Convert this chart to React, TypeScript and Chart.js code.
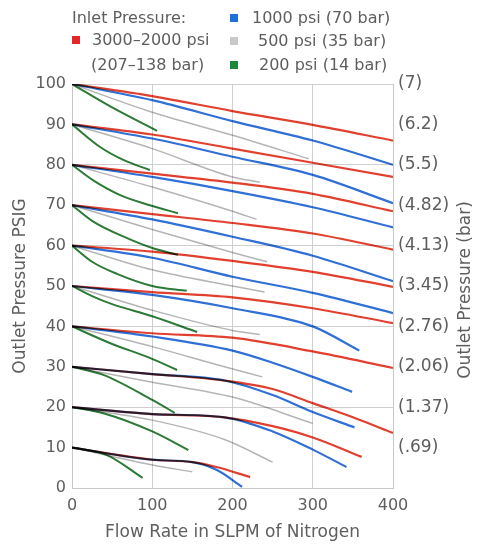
import React, { useEffect, useRef } from "react";
import { Chart, registerables } from "chart.js";

Chart.register(...registerables);

type Pt = [number, number];

// Outlet set-points (psig) for each family of curves
const levels = [100, 90, 80, 70, 60, 50, 40, 30, 20, 10];

// Inlet 3000–2000 psi (red)
const redCurves: Pt[][] = [
  [[0, 100], [100, 97], [200, 93.3], [300, 89.9], [400, 86]],
  [[0, 90], [100, 87.5], [200, 84], [300, 80.5], [400, 77]],
  [[0, 80], [100, 77.8], [200, 75.6], [300, 72.8], [400, 68.5]],
  [[0, 70], [100, 67.8], [200, 65.6], [300, 63], [400, 59]],
  [[0, 60], [100, 58.5], [200, 56.2], [300, 53.5], [400, 49.8]],
  [[0, 50], [100, 48.5], [200, 47.2], [300, 44.5], [400, 40.8]],
  [[0, 40], [100, 38.3], [200, 37.2], [300, 33.8], [400, 29.7]],
  [[0, 30], [100, 28.2], [190, 26.6], [250, 24.5], [300, 21], [350, 17.5], [400, 13.6]],
  [[0, 20], [100, 18.3], [190, 17.5], [250, 15.3], [300, 12.5], [361, 7.7]],
  [[0, 10], [100, 7], [150, 6.4], [180, 5.2], [222, 2.7]],
];

// Inlet 1000 psi (blue)
const blueCurves: Pt[][] = [
  [[0, 100], [100, 96], [200, 90.8], [300, 86], [400, 80]],
  [[0, 90], [100, 86.5], [200, 82], [300, 77.5], [400, 70.5]],
  [[0, 80], [100, 77], [200, 73.5], [300, 69.5], [400, 64.5]],
  [[0, 70], [100, 66.5], [200, 62.2], [300, 57.5], [400, 51.2]],
  [[0, 60], [100, 57], [200, 52.3], [300, 48.3], [400, 43.3]],
  [[0, 50], [100, 47.8], [200, 44.5], [300, 40], [358, 34]],
  [[0, 40], [100, 37.5], [200, 34], [250, 31], [300, 27.5], [349, 23.8]],
  [[0, 30], [100, 28.2], [190, 26.6], [250, 23], [300, 18.8], [352, 15]],
  [[0, 20], [100, 18.3], [190, 17.5], [250, 14], [300, 9.5], [342, 5.2]],
  [[0, 10], [100, 7], [150, 6.4], [180, 4.5], [212, 0.3]],
];

// Inlet 500 psi (gray)
const grayCurves: Pt[][] = [
  [[0, 100], [100, 93], [200, 87.3], [295, 81.5]],
  [[0, 90], [100, 84], [200, 77], [234, 75.7]],
  [[0, 80], [100, 74.5], [200, 68.5], [230, 66.5]],
  [[0, 70], [100, 64], [200, 58.3], [243, 56]],
  [[0, 60], [100, 54], [200, 50], [240, 48.5]],
  [[0, 50], [100, 44], [200, 39], [234, 38]],
  [[0, 40], [100, 35], [190, 30], [237, 27.5]],
  [[0, 30], [100, 26.2], [200, 22.5], [300, 16]],
  [[0, 20], [100, 16.8], [190, 12], [250, 6.4]],
  [[0, 10], [100, 5.7], [150, 4]],
];

// Inlet 200 psi (green)
const greenCurves: Pt[][] = [
  [[0, 100], [50, 94.2], [106, 88.4]],
  [[0, 90], [35, 84.4], [64, 81.2], [97, 78.7]],
  [[0, 80], [26, 76.2], [60, 72.5], [97, 70], [132, 68]],
  [[0, 70], [26, 66], [68, 61.9], [100, 59.4], [132, 57.7]],
  [[0, 60], [25, 56], [56, 53], [100, 50], [143, 48.8]],
  [[0, 50], [25, 47.5], [50, 45.5], [100, 42.5], [156, 38.6]],
  [[0, 40], [47, 35.9], [97, 32.2], [131, 29.2]],
  [[0, 30], [39, 28], [100, 21.8], [128, 18.6]],
  [[0, 20], [39, 18.5], [100, 14], [145, 9.4]],
  [[0, 10], [43, 8.2], [88, 2.5]],
];

const xTicks = [0, 100, 200, 300, 400];
const barLabels = ["", "(.69)", "(1.37)", "(2.06)", "(2.76)", "(3.45)", "(4.13)", "(4.82)", "(5.5)", "(6.2)", "(7)"];

const legendRows = [
  { color: "#e3262a", text: "3000–2000 psi", sub: "(207–138 bar)" },
  { color: "#1e6fd9", text: "1000 psi (70 bar)" },
  { color: "#c9c9c9", text: "500 psi (35 bar)" },
  { color: "#1d8a3b", text: "200 psi (14 bar)" },
];

const FONT = '"DejaVu Sans", sans-serif';
const TXT = "#5e5e5e";

const series = [
  { curves: grayCurves, color: "#b4b4b4", width: 1.5 },
  { curves: blueCurves, color: "#2f6fd6", width: 2.2 },
  { curves: redCurves, color: "#e2402e", width: 2.2 },
  { curves: greenCurves, color: "#2b7a36", width: 2 },
];

export default function App() {
  const ref = useRef<HTMLCanvasElement>(null);

  useEffect(() => {
    if (!ref.current) return;
    const datasets: any[] = [];
    series.forEach((s) => {
      s.curves.forEach((c, i) => {
        datasets.push({
          label: `${levels[i]}`,
          data: c.map(([x, y]) => ({ x, y })),
          borderColor: s.color,
          borderWidth: s.width,
          pointRadius: 0,
          fill: false,
          cubicInterpolationMode: "monotone",
        });
      });
    });

    const blend = {
      id: "blend",
      beforeDatasetsDraw(chart: any) {
        chart.ctx.save();
        chart.ctx.globalCompositeOperation = "multiply";
      },
      afterDatasetsDraw(chart: any) {
        chart.ctx.restore();
      },
    };
    const rightTitle = {
      id: "rightTitle",
      afterDraw(chart: any) {
        const { ctx, chartArea } = chart;
        ctx.save();
        ctx.translate(chart.width - 17, (chartArea.top + chartArea.bottom) / 2 + 4);
        ctx.rotate(-Math.PI / 2);
        ctx.font = `17px ${FONT}`;
        ctx.fillStyle = TXT;
        ctx.textAlign = "center";
        ctx.textBaseline = "middle";
        ctx.fillText("Outlet Pressure (bar)", 0, 0);
        ctx.restore();
      },
    };

    const chart = new Chart(ref.current, {
      type: "line",
      data: { datasets },
      plugins: [blend, rightTitle],
      options: {
        responsive: false,
        animation: false,
        layout: { padding: { left: 0, right: 0, top: 84, bottom: 0 } },
        plugins: { legend: { display: false }, tooltip: { enabled: false } },
        scales: {
          x: {
            type: "linear",
            min: 0,
            max: 400,
            afterBuildTicks: (s: any) => {
              s.ticks = xTicks.map((v) => ({ value: v }));
            },
            afterFit: (s: any) => {
              s.height = 58;
            },
            ticks: { font: { family: FONT, size: 16 }, color: TXT, padding: 8, maxRotation: 0 },
            grid: { color: "#cfcfcf", drawTicks: false },
            border: { color: "#c8c8c8" },
            title: {
              display: true,
              text: "Flow Rate in SLPM of Nitrogen",
              font: { family: FONT, size: 17 },
              color: TXT,
              padding: { top: 0, bottom: 3 },
            },
          },
          y: {
            position: "left",
            min: 0,
            max: 100,
            ticks: { stepSize: 10, font: { family: FONT, size: 16 }, color: TXT, padding: 6 },
            afterFit: (s: any) => {
              s.width = 72;
            },
            grid: {
              drawTicks: false,
              color: (c: any) => (c.tick && c.tick.value % 20 === 0 ? "#cfcfcf" : "rgba(0,0,0,0)"),
            },
            border: { color: "#c8c8c8" },
            title: {
              display: true,
              text: "Outlet Pressure PSIG",
              font: { family: FONT, size: 17 },
              color: TXT,
              padding: { top: 10, bottom: 0 },
            },
          },
          y2: {
            position: "right",
            min: 0,
            max: 100,
            ticks: {
              stepSize: 10,
              font: { family: FONT, size: 17 },
              color: TXT,
              padding: 5,
              callback: (v: any) => barLabels[Math.round(Number(v) / 10)] ?? "",
            },
            afterFit: (s: any) => {
              s.width = 90;
            },
            grid: { display: false, drawTicks: false },
            border: { color: "#c8c8c8" },
          },
        },
      },
    } as any);
    return () => chart.destroy();
  }, []);

  const sq = (color: string, top: number): React.CSSProperties => ({
    position: "absolute",
    left: 0,
    top,
    width: 8,
    height: 8,
    background: color,
  });
  const txt = (left: number, top: number): React.CSSProperties => ({
    position: "absolute",
    left,
    top,
    fontFamily: FONT,
    fontSize: 16,
    lineHeight: "20px",
    color: TXT,
    whiteSpace: "nowrap",
  });

  return (
    <div style={{ position: "fixed", left: 0, top: 0, width: 483, height: 546, background: "#fff" }}>
      <canvas ref={ref} width={483} height={546} style={{ position: "absolute", left: 0, top: 0 }} />
      <div style={txt(72, 8)}>Inlet Pressure:</div>
      <div style={{ position: "absolute", left: 72, top: 0 }}>
        <div style={sq(legendRows[0].color, 36)} />
      </div>
      <div style={txt(92, 30)}>{legendRows[0].text}</div>
      <div style={txt(91, 55)}>{legendRows[0].sub}</div>
      <div style={{ position: "absolute", left: 230, top: 0 }}>
        <div style={sq(legendRows[1].color, 14)} />
        <div style={sq(legendRows[2].color, 37)} />
        <div style={sq(legendRows[3].color, 61)} />
      </div>
      <div style={txt(252, 8)}>{legendRows[1].text}</div>
      <div style={txt(258, 31)}>{legendRows[2].text}</div>
      <div style={txt(259, 55)}>{legendRows[3].text}</div>
    </div>
  );
}
